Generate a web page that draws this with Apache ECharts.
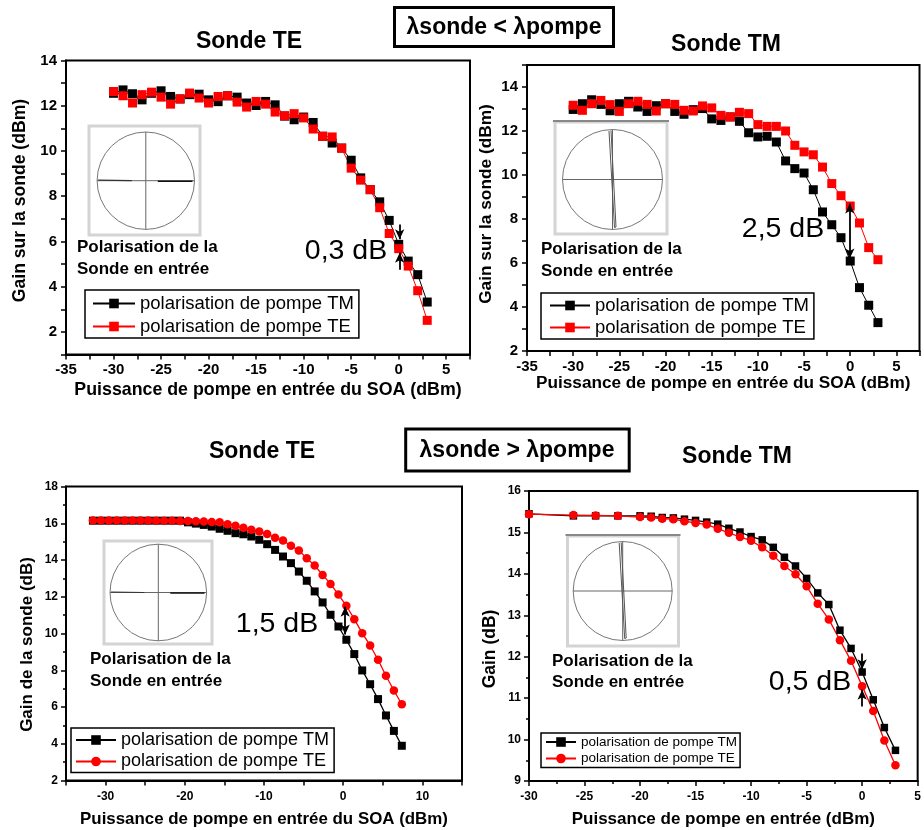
<!DOCTYPE html>
<html>
<head>
<meta charset="utf-8">
<script src="https://cdn.jsdelivr.net/npm/echarts@6/dist/echarts.min.js"></script>
<style>
html, body { margin: 0; padding: 0; background: #fff; }
#chart { width: 924px; height: 830px; }
</style>
</head>
<body>
<div id="chart"></div>
<script>
const FONT = '"Liberation Sans", Arial, Helvetica, sans-serif';

// données lues sur la figure
// haut : lambda sonde < lambda pompe
const xTop = [-30,-29,-28,-27,-26,-25,-24,-23,-22,-21,-20,-19,-18,-17,-16,-15,-14,-13,-12,-11,-10,-9,-8,-7,-6,-5,-4,-3,-2,-1,0,1,2,3];
const teProbeTM = [12.55,12.7,12.53,12.26,12.55,12.66,12.41,12.3,12.49,12.51,12.26,12.18,12.44,12.38,12.12,12.01,12.19,12.04,11.54,11.38,11.5,11.26,10.65,10.35,10.13,9.59,8.81,8.29,7.75,6.93,5.87,5.13,4.53,3.32];
const teProbeTE = [12.63,12.44,12.12,12.49,12.6,12.38,12.07,12.3,12.56,12.34,12.12,12.41,12.44,12.16,11.94,12.19,12.07,11.72,11.56,11.65,11.46,10.97,10.65,10.62,10.12,9.24,8.71,8.29,7.49,6.35,5.68,4.91,3.82,2.51];
const tmProbeTM = [12.98,13.24,13.42,13.21,12.92,13.24,13.35,13.09,12.89,13.15,13.24,12.89,12.76,12.97,13.02,12.55,12.48,12.64,12.44,11.92,11.73,11.76,11.5,10.64,10.29,10.09,9.33,8.32,7.74,7.15,6.09,4.88,4.08,3.29];
const tmProbeTE = [13.17,12.94,13.24,13.39,13.2,12.89,13.24,13.35,13.21,12.91,13.24,13.21,12.94,12.91,13.14,13.05,12.71,12.64,12.85,12.79,12.29,12.21,12.21,12.0,11.35,11.05,10.92,10.36,9.61,9.06,8.59,7.82,6.7,6.15];

// bas : lambda sonde > lambda pompe
const xBotTE = [-31.6,-30.6,-29.6,-28.6,-27.6,-26.6,-25.6,-24.6,-23.6,-22.6,-21.6,-20.6,-19.6,-18.6,-17.6,-16.6,-15.6,-14.6,-13.6,-12.6,-11.6,-10.6,-9.6,-8.6,-7.6,-6.6,-5.6,-4.6,-3.6,-2.6,-1.6,-0.6,0.4,1.4,2.4,3.4,4.4,5.4,6.4,7.4];
const teProbeTM2 = [16.14,16.14,16.14,16.14,16.14,16.14,16.14,16.14,16.14,16.14,16.14,16.14,16.05,15.98,15.91,15.82,15.7,15.59,15.46,15.4,15.28,15.1,14.86,14.55,14.19,13.83,13.37,12.87,12.29,11.69,11.02,10.38,9.66,8.88,7.99,7.24,6.43,5.54,4.7,3.89];
const teProbeTE2 = [16.15,16.15,16.15,16.15,16.15,16.15,16.15,16.15,16.14,16.14,16.14,16.12,16.12,16.11,16.09,16.07,16.05,15.95,15.86,15.75,15.64,15.55,15.42,15.21,15.06,14.77,14.52,14.1,13.7,13.19,12.7,12.12,11.51,10.78,10.02,9.35,8.57,7.7,6.9,6.15];
const xBotTM = [-30,-26,-24,-22,-20,-19,-18,-17,-16,-15,-14,-13,-12,-11,-10,-9,-8,-7,-6,-5,-4,-3,-2,-1,0,1,2,3];
const tmProbeTM2 = [15.45,15.4,15.4,15.4,15.4,15.39,15.36,15.35,15.32,15.29,15.25,15.2,15.1,15.01,14.9,14.82,14.64,14.4,14.19,13.89,13.54,13.26,12.64,12.2,11.63,10.96,10.29,9.74];
const tmProbeTE2 = [15.44,15.42,15.41,15.4,15.37,15.36,15.33,15.32,15.27,15.23,15.19,15.09,14.99,14.89,14.8,14.64,14.44,14.19,13.99,13.7,13.28,12.9,12.4,11.9,11.29,10.69,9.98,9.38];

const legendLabels = { TM: 'polarisation de pompe TM', TE: 'polarisation de pompe TE' };

function pairs(xs, ys) {
  return xs.map((x, i) => [x, ys[i]]);
}

const grids = [
  { left: 66, top: 60.5, width: 404, height: 294 },
  { left: 527, top: 65, width: 392.5, height: 286 },
  { left: 66, top: 486.5, width: 396, height: 294 },
  { left: 529, top: 491, width: 392, height: 290 }
].map(g => Object.assign(g, { show: true, borderColor: '#000', borderWidth: 2 }));

function axisBase(gridIndex, opt) {
  return {
    type: 'value',
    gridIndex: gridIndex,
    min: opt.min, max: opt.max, interval: opt.interval,
    splitLine: { show: false },
    axisLine: { onZero: false, lineStyle: { color: '#000', width: 2 } },
    axisTick: { length: 5, lineStyle: { color: '#000', width: 1.5 } },
    minorTick: opt.minor ? { show: true, splitNumber: 2, length: 3, lineStyle: { color: '#000', width: 1.5 } } : { show: false },
    axisLabel: {
      color: '#000', fontFamily: FONT, fontWeight: 'bold', fontSize: opt.labelSize,
      margin: opt.margin, formatter: opt.fmt
    },
    name: opt.name, nameLocation: 'middle', nameGap: opt.nameGap,
    nameTextStyle: { color: '#000', fontFamily: FONT, fontWeight: 'bold', fontSize: opt.nameSize,
      padding: opt.namePad || 0 }
  };
}

const every5 = v => (v % 5 === 0 ? String(v) : '');
const every10 = v => (v % 10 === 0 ? String(v) : '');
const even = v => (v % 2 === 0 ? String(v) : '');
const plain = v => String(v);

const xAxes = [
  axisBase(0, { min: -35, max: 7.5, interval: 2.5, labelSize: 15, margin: 8, fmt: every5,
    name: 'Puissance de pompe en entrée du SOA (dBm)', nameGap: 27, nameSize: 17.8 }),
  axisBase(1, { min: -35, max: 7.5, interval: 2.5, labelSize: 15, margin: 8, fmt: every5,
    name: 'Puissance de pompe en entrée du SOA (dBm)', nameGap: 24, nameSize: 17.2 }),
  axisBase(2, { min: -35, max: 15, interval: 5, labelSize: 12, margin: 10, fmt: every10,
    name: 'Puissance de pompe en entrée du SOA (dBm)', nameGap: 30, nameSize: 16.9 }),
  axisBase(3, { min: -30, max: 5, interval: 5, minor: true, labelSize: 12, margin: 10, fmt: plain,
    name: 'Puissance de pompe en entrée (dBm)', nameGap: 30, nameSize: 17 })
];

const yAxes = [
  axisBase(0, { min: 1, max: 14, interval: 1, labelSize: 15, margin: 9, fmt: even,
    name: 'Gain sur la sonde (dBm)', nameGap: 37, nameSize: 17.6, namePad: [0, 0, 0, 14] }),
  axisBase(1, { min: 2, max: 15, interval: 1, labelSize: 15, margin: 9, fmt: even,
    name: 'Gain sur la sonde (dBm)', nameGap: 32, nameSize: 17.3, namePad: [0, 0, 0, 8] }),
  axisBase(2, { min: 2, max: 18, interval: 2, minor: true, labelSize: 12, margin: 8, fmt: plain,
    name: 'Gain de la sonde (dB)', nameGap: 30, nameSize: 17, namePad: [0, 22, 0, 0] }),
  axisBase(3, { min: 9, max: 16, interval: 1, minor: true, labelSize: 12, margin: 8, fmt: plain,
    name: 'Gain (dB)', nameGap: 30, nameSize: 17.5, namePad: [0, 26, 0, 0] })
];

function arrows(segments, symbols) {
  return {
    silent: true, symbol: symbols, symbolSize: [7, 10],
    label: { show: false },
    lineStyle: { color: '#000', width: 1.8, type: 'solid' },
    emphasis: { disabled: true },
    data: segments.map(s => [{ coord: [s[0], s[1]] }, { coord: [s[0], s[2]] }])
  };
}

function line(name, idx, data, color, symbol, size, width, markLine) {
  const s = {
    name: name, type: 'line', xAxisIndex: idx, yAxisIndex: idx,
    data: data, symbol: symbol, symbolSize: size, showAllSymbol: true,
    lineStyle: { color: color, width: width },
    itemStyle: { color: color },
    emphasis: { disabled: true }
  };
  if (markLine) s.markLine = markLine;
  return s;
}

const series = [
  line('TM1', 0, pairs(xTop, teProbeTM), '#000', 'rect', 9, 1,
    arrows([[0.1, 6.75, 6.1], [0.1, 4.75, 5.5]], ['none', 'arrow'])),
  line('TE1', 0, pairs(xTop, teProbeTE), '#ff0000', 'rect', 9, 1),
  line('TM2', 1, pairs(xTop, tmProbeTM), '#000', 'rect', 9, 1,
    arrows([[-0.05, 8.7, 6.2]], ['arrow', 'arrow'])),
  line('TE2', 1, pairs(xTop, tmProbeTE), '#ff0000', 'rect', 9, 1),
  line('TM3', 2, pairs(xBotTE, teProbeTM2), '#000', 'rect', 8, 1.3,
    arrows([[0.25, 11.45, 9.95]], ['arrow', 'arrow'])),
  line('TE3', 2, pairs(xBotTE, teProbeTE2), '#ff0000', 'circle', 8.5, 1.3),
  line('TM4', 3, pairs(xBotTM, tmProbeTM2), '#000', 'rect', 7.5, 1.3,
    arrows([[0, 12.08, 11.7], [0, 10.8, 11.2]], ['none', 'arrow'])),
  line('TE4', 3, pairs(xBotTM, tmProbeTE2), '#ff0000', 'circle', 8.5, 1.3)
];

function legendBox(k, left, top, fontSize, itemWidth, itemGap, padding) {
  return {
    data: ['TM' + k, 'TE' + k], orient: 'vertical', left: left, top: top,
    selectedMode: false, itemWidth: itemWidth, itemHeight: 12, itemGap: itemGap,
    padding: padding, borderColor: '#000', borderWidth: 1.5, borderRadius: 0,
    backgroundColor: '#fff',
    formatter: n => legendLabels[n.slice(0, 2)],
    textStyle: { color: '#000', fontFamily: FONT, fontSize: fontSize }
  };
}

const legends = [
  legendBox(1, 85, 290, 18.5, 42, 4, [4, 5, 2, 7]),
  legendBox(2, 541, 293, 18.5, 40, 3, [3, 5, 2, 8]),
  legendBox(3, 71, 728, 18, 40, 3.5, [3, 5, 2, 4]),
  legendBox(4, 541, 733, 13.5, 30, 2.5, [2, 3, 2, 4])
];

function txt(x, y, s, size, weight, align) {
  return {
    type: 'text', z: 10,
    style: { x: x, y: y, text: s, fill: '#000', font: weight + ' ' + size + 'px ' + FONT,
      textAlign: align || 'center', textVerticalAlign: 'middle' }
  };
}

function inset(x, y, w, h, cx, cy, r, tm) {
  const els = [
    { type: 'rect', shape: { x: x, y: y, width: w, height: h },
      style: { fill: '#fff', stroke: '#d4d4d4', lineWidth: 3 } },
    { type: 'circle', shape: { cx: cx, cy: cy, r: r },
      style: { fill: 'none', stroke: '#777', lineWidth: 1 } },
    { type: 'line', shape: { x1: cx, y1: cy - r, x2: cx, y2: cy + r },
      style: { stroke: '#666', lineWidth: 1 } },
    { type: 'line', shape: { x1: cx - r, y1: cy, x2: cx + r, y2: cy },
      style: { stroke: '#666', lineWidth: 1 } }
  ];
  if (tm) {
    els.push({ type: 'line', shape: { x1: x - 2, y1: y - 1, x2: x + w + 2, y2: y - 1 },
      style: { stroke: '#888', lineWidth: 2 } });
    els.push({ type: 'polyline', shape: { points: [[cx - 3.5, cy - r + 1.5], [cx + 2, cy + r - 2], [cx + 3.5, cy + r - 2.5], [cx - 1.5, cy - r + 1]] },
      style: { stroke: '#555', lineWidth: 1, fill: 'none' } });
  } else {
    els.push({ type: 'line', shape: { x1: cx + 12, y1: cy + 0.5, x2: cx + r - 2, y2: cy + 0.5 },
      style: { stroke: '#111', lineWidth: 1.6 } });
    els.push({ type: 'line', shape: { x1: cx - r + 1, y1: cy - 0.5, x2: cx - 14, y2: cy },
      style: { stroke: '#333', lineWidth: 1.2 } });
  }
  return els;
}

const graphics = [].concat(
  inset(89, 126, 111, 109, 145.8, 180.7, 48.7, false),
  inset(555, 122, 112, 112, 612.5, 179.5, 50, true),
  inset(104, 541, 108, 103, 158.3, 592.5, 48.3, false),
  inset(567.5, 536, 111, 110, 622.7, 591, 49.5, true),
  [
    { type: 'rect', shape: { x: 394.5, y: 7.5, width: 219, height: 39 },
      style: { fill: '#fff', stroke: '#000', lineWidth: 3 } },
    { type: 'rect', shape: { x: 405.7, y: 429, width: 223.5, height: 42 },
      style: { fill: '#fff', stroke: '#000', lineWidth: 3 } },
    txt(504, 28, 'λsonde < λpompe', 23, 'bold'),
    txt(517, 450.5, 'λsonde > λpompe', 23, 'bold'),
    txt(249, 42, 'Sonde TE', 23, 'bold'),
    txt(726, 45, 'Sonde TM', 23, 'bold'),
    txt(262, 452, 'Sonde TE', 23, 'bold'),
    txt(737, 457, 'Sonde TM', 23, 'bold'),
    txt(77, 247, 'Polarisation de la', 17, 'bold', 'left'),
    txt(77, 269, 'Sonde en entrée', 17, 'bold', 'left'),
    txt(541, 249, 'Polarisation de la', 17, 'bold', 'left'),
    txt(541, 271, 'Sonde en entrée', 17, 'bold', 'left'),
    txt(90, 659, 'Polarisation de la', 17, 'bold', 'left'),
    txt(90, 681, 'Sonde en entrée', 17, 'bold', 'left'),
    txt(552, 661, 'Polarisation de la', 17, 'bold', 'left'),
    txt(552, 682, 'Sonde en entrée', 17, 'bold', 'left'),
    txt(346, 251, '0,3 dB', 28.5, 'normal'),
    txt(783, 229, '2,5 dB', 28.5, 'normal'),
    txt(277, 624, '1,5 dB', 28.5, 'normal'),
    txt(810, 682, '0,5 dB', 28.5, 'normal')
  ]
);

const chart = echarts.init(document.getElementById('chart'), null, { renderer: 'canvas' });
chart.setOption({
  backgroundColor: '#fff',
  animation: false,
  textStyle: { fontFamily: FONT },
  grid: grids,
  xAxis: xAxes,
  yAxis: yAxes,
  legend: legends,
  series: series,
  graphic: graphics
});
window.addEventListener('resize', () => chart.resize());
</script>
</body>
</html>
